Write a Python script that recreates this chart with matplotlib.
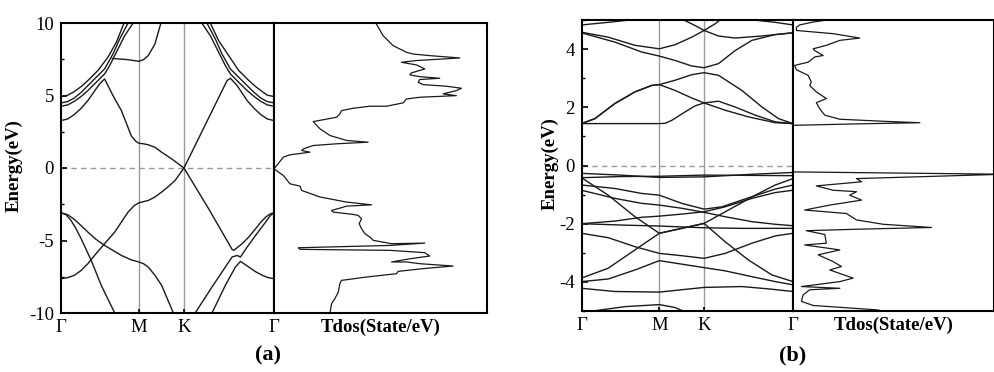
import matplotlib.pyplot as plt
from matplotlib.ticker import MultipleLocator

plt.rcParams['font.family'] = ['Liberation Serif', 'DejaVu Serif']
plt.rcParams['axes.unicode_minus'] = False

# high-symmetry path
klabels = ['Γ', 'M', 'K', 'Γ']
kpts_a = [0.0, 1.0, 1.58, 2.737]
kpts_b = [0.0, 1.0, 1.575, 2.717]

# ---- panel (a) bands, (k, E) points ----
bands_a = [
    [(0, 4.93), (0.086, 5.02), (0.172, 5.27), (0.26, 5.62), (0.345, 6.03), (0.474, 6.72), (0.603, 7.64), (0.711, 8.67),
     (0.810, 10.0), (0.86, 10.6)],
    [(0, 4.49), (0.086, 4.58), (0.172, 4.83), (0.26, 5.22), (0.345, 5.68), (0.474, 6.37), (0.560, 6.83), (0.668, 7.86),
     (0.754, 8.90), (0.862, 10.0), (0.9, 10.4)],
    [(0, 4.26), (0.086, 4.35), (0.172, 4.60), (0.26, 4.94), (0.345, 5.34), (0.496, 6.14), (0.560, 6.49), (0.625, 7.06),
     (0.711, 7.98), (0.819, 9.13), (0.927, 10.0), (0.96, 10.3)],
    [(0, 3.27), (0.086, 3.38), (0.172, 3.69), (0.26, 4.12), (0.345, 4.65), (0.42, 5.22), (0.496, 5.80), (0.560, 6.14),
     (0.668, 5.0), (0.776, 3.96), (0.905, 2.2), (0.96, 1.85), (1.0, 1.71), (1.06, 1.67), (1.121, 1.60), (1.207, 1.43),
     (1.293, 1.09), (1.422, 0.63), (1.58, 0.0), (1.897, -2.81), (2.198, -5.61), (2.220, -5.68), (2.328, -5.22),
     (2.42, -4.72), (2.5, -4.19), (2.57, -3.72), (2.629, -3.39), (2.69, -3.16), (2.737, -3.09)],
    [(0.66, 7.55), (0.75, 7.52), (0.862, 7.47), (1.0, 7.36), (1.06, 7.47), (1.121, 7.75), (1.207, 8.55), (1.284, 10.0),
     (1.32, 10.7)],
    [(0, -7.63), (0.086, -7.56), (0.172, -7.40), (0.26, -7.06), (0.345, -6.60), (0.431, -6.03), (0.560, -5.22),
     (0.690, -4.42), (0.862, -3.04), (0.94, -2.6), (1.0, -2.40), (1.06, -2.32), (1.121, -2.24), (1.207, -2.0),
     (1.293, -1.66), (1.38, -1.28), (1.466, -0.86), (1.58, 0.0), (1.767, 2.03), (1.940, 3.92), (2.069, 5.32),
     (2.134, 6.03), (2.177, 6.19), (2.263, 5.68), (2.392, 4.65), (2.48, 4.12), (2.565, 3.69), (2.651, 3.38),
     (2.737, 3.27)],
    [(2.737, 4.93), (2.651, 5.02), (2.586, 5.27), (2.50, 5.62), (2.414, 6.03), (2.284, 6.72), (2.155, 7.75),
     (2.026, 8.78), (1.918, 10.0), (1.87, 10.6)],
    [(2.737, 4.49), (2.651, 4.58), (2.565, 4.83), (2.48, 5.22), (2.392, 5.68), (2.263, 6.37), (2.177, 6.83),
     (2.069, 7.86), (1.983, 8.90), (1.875, 10.0), (1.84, 10.4)],
    [(2.737, 4.26), (2.651, 4.35), (2.565, 4.60), (2.48, 4.94), (2.392, 5.34), (2.241, 6.14), (2.177, 6.49),
     (2.112, 7.06), (2.026, 7.98), (1.918, 9.13), (1.810, 10.0), (1.78, 10.3)],
    [(0, -3.09), (0.065, -3.22), (0.129, -3.62), (0.195, -4.2), (0.259, -4.88), (0.388, -6.37), (0.517, -8.09),
     (0.690, -10.0), (0.72, -10.4)],
    [(0, -3.09), (0.086, -3.22), (0.172, -3.55), (0.26, -3.98), (0.345, -4.42), (0.45, -4.92), (0.560, -5.34),
     (0.776, -6.03), (0.9, -6.33), (1.0, -6.48), (1.06, -6.6), (1.121, -6.83), (1.207, -7.4), (1.293, -8.09),
     (1.444, -10.0), (1.47, -10.3)],
    [(1.70, -10.3), (1.724, -10.0), (1.940, -8.21), (2.198, -6.14), (2.263, -6.03), (2.306, -6.14), (2.392, -5.45),
     (2.5, -4.65), (2.629, -3.73), (2.69, -3.28), (2.737, -3.09)],
    [(1.92, -10.3), (1.940, -10.0), (2.112, -8.09), (2.241, -6.83), (2.306, -6.44), (2.414, -6.83), (2.5, -7.15),
     (2.586, -7.40), (2.66, -7.56), (2.737, -7.63)],
]

# ---- panel (a) total DOS ----
dos_a_E = [10.0, 9.13, 8.44, 7.98, 7.86, 7.75, 7.59, 7.52, 7.41, 7.29, 7.11, 6.83, 6.56, 6.42, 6.30, 6.19, 6.10, 5.91, 5.75,
           5.64, 5.50, 5.34, 5.11, 4.99, 4.88, 4.76, 4.49, 4.26, 4.26, 4.12, 3.96, 3.73, 3.50, 3.20, 2.70, 2.24, 1.90, 1.78,
           1.67, 1.55, 1.32, 1.21, 1.09, 0.91, 0.75, -0.06, -0.52, -1.09, -1.25, -1.55, -2.0, -2.35, -2.54, -2.63, -2.93,
           -3.04, -3.20, -3.27, -3.50, -3.84, -4.19, -4.53, -4.76, -4.99, -5.22, -5.18, -5.34, -5.50, -5.61, -5.68, -5.84,
           -6.07, -6.26, -6.48, -6.48, -6.60, -6.76, -6.94, -7.13, -7.29, -7.52, -7.75, -7.98, -8.55, -9.01, -9.36, -10.0]
dos_a = [4.78, 5.12, 5.59, 6.22, 6.53, 7.31, 8.72, 7.94, 6.69, 5.98, 6.69, 7.08, 6.45, 6.38, 6.84, 7.78, 6.84, 6.77, 7.0,
         8.09, 8.80, 8.56, 7.94, 8.56, 6.84, 6.22, 6.06, 5.28, 4.5, 3.72, 3.17, 3.09, 2.94, 1.84, 2.16, 2.63, 3.41, 4.42,
         2.94, 1.84, 1.38, 1.30, 1.69, 0.75, 0.44, 0.0, 0.44, 0.75, 1.22, 1.30, 2.16, 3.41, 4.58, 3.41, 2.70,
         2.78, 3.72, 3.95, 4.11, 4.0, 4.11, 4.27, 4.5, 4.66, 5.52, 7.08, 5.44, 1.14, 1.22, 5.44, 7.08,
         7.31, 6.38, 5.52, 6.22, 6.84, 8.41, 7.0, 5.83, 5.75, 4.34, 3.17, 3.09, 3.02, 2.86, 2.70, 2.63]

# ---- panel (b) bands ----
bands_b = [
    # conduction
    [(0, 1.44), (0.558, 1.44), (1.0, 1.44), (1.073, 1.45), (1.159, 1.55), (1.330, 1.84), (1.459, 2.05), (1.575, 2.15),
     (1.760, 2.21), (1.974, 2.01), (2.232, 1.73), (2.489, 1.50), (2.717, 1.44)],
    [(0, 1.44), (0.172, 1.61), (0.429, 2.13), (0.687, 2.53), (0.901, 2.75), (1.0, 2.78), (1.202, 2.58), (1.416, 2.32),
     (1.575, 2.15), (1.845, 1.90), (2.146, 1.67), (2.489, 1.47), (2.717, 1.44)],
    [(0, 1.44), (0.172, 1.61), (0.429, 2.13), (0.687, 2.53), (0.901, 2.75), (1.0, 2.78), (1.202, 2.93), (1.416, 3.12),
     (1.575, 3.19), (1.760, 3.10), (2.060, 2.58), (2.318, 2.01), (2.532, 1.61), (2.717, 1.44)],
    [(0, 4.58), (0.343, 4.41), (0.687, 4.13), (1.0, 4.01), (1.202, 4.15), (1.416, 4.41), (1.575, 4.64), (1.717, 4.87), (1.803, 5.05)],
    [(0, 4.56), (0.429, 4.24), (0.773, 3.90), (1.0, 3.76), (1.202, 3.61), (1.416, 3.42), (1.575, 3.36), (1.760, 3.50),
     (1.974, 3.95), (2.189, 4.30), (2.489, 4.50), (2.717, 4.56)],
    [(1.330, 4.98), (1.459, 4.81), (1.575, 4.64), (1.760, 4.45), (1.974, 4.38), (2.318, 4.45), (2.717, 4.56)],
    [(0, 4.83), (0.343, 4.92), (0.622, 5.0), (0.8, 5.1)],
    [(2.1, 5.1), (2.206, 5.0), (2.489, 4.92), (2.717, 4.83)],
    # valence
    [(0, -0.27), (0.5, -0.33), (1.0, -0.41), (1.575, -0.39), (2.2, -0.30), (2.717, -0.24)],
    [(0, -0.42), (0.5, -0.38), (1.0, -0.37), (1.575, -0.33), (2.2, -0.34), (2.717, -0.35)],
    [(0, -0.42), (0.343, -1.02), (0.687, -1.76), (1.0, -2.33), (1.288, -2.16), (1.575, -1.99), (1.888, -1.53),
     (2.232, -1.02), (2.489, -0.67), (2.717, -0.45)],
    [(0, -3.87), (0.343, -3.53), (0.687, -2.90), (1.0, -2.33), (1.288, -2.16), (1.575, -1.99), (1.845, -2.62),
     (2.146, -3.25), (2.446, -3.76), (2.717, -3.99)],
    [(0, -0.67), (0.429, -0.79), (0.773, -0.96), (1.0, -1.02), (1.288, -1.30), (1.575, -1.50), (1.803, -1.42),
     (2.146, -1.11), (2.489, -0.81), (2.717, -0.67)],
    [(0, -0.85), (0.429, -1.13), (0.773, -1.30), (1.0, -1.36), (1.288, -1.47), (1.575, -1.61), (1.845, -1.76),
     (2.189, -1.93), (2.489, -2.02), (2.717, -2.07)],
    [(0, -2.0), (0.558, -2.05), (1.0, -2.08), (1.575, -2.14), (2.060, -2.16), (2.717, -2.16)],
    [(0, -2.0), (0.429, -1.91), (0.773, -1.78), (1.0, -1.74), (1.288, -1.67), (1.575, -1.59), (1.845, -1.42),
     (2.189, -1.13), (2.489, -0.93), (2.717, -0.85)],
    [(0, -2.33), (0.343, -2.48), (0.687, -2.79), (1.0, -3.02), (1.288, -3.10), (1.575, -3.19), (1.845, -3.02),
     (2.189, -2.67), (2.489, -2.42), (2.717, -2.33)],
    [(0, -3.99), (0.343, -3.90), (0.687, -3.59), (1.0, -3.27), (1.288, -3.39), (1.575, -3.51), (1.845, -3.62),
     (2.189, -3.82), (2.489, -3.99), (2.717, -4.10)],
    [(0, -4.22), (0.429, -4.33), (1.0, -4.35), (1.575, -4.19), (2.060, -4.16), (2.403, -4.24), (2.717, -4.33)],
    [(0.05, -5.2), (0.146, -5.0), (0.558, -4.85), (1.0, -4.78), (1.2, -4.88), (1.305, -5.0), (1.4, -5.2)],
]

# ---- panel (b) total DOS ----
dos_b_E = [4.98, 4.93, 4.83, 4.75, 4.64, 4.53, 4.38, 4.30, 4.13, 4.01, 3.95, 3.78, 3.73, 3.55, 3.44, 3.29, 3.10, 2.87,
           2.75, 2.53, 2.30, 2.16, 1.95, 1.73, 1.59, 1.52, 1.47, 1.43, 1.38, -0.22, -0.30, -0.45, -0.56, -0.70, -0.85,
           -0.90, -1.02, -1.19, -1.36, -1.53, -1.65, -1.76, -1.87, -2.02, -2.13, -2.19, -2.24, -2.37, -2.67, -2.73,
           -2.90, -3.07, -3.30, -3.47, -3.59, -3.87, -3.99, -4.16, -4.22, -4.27, -4.45, -4.67, -4.81, -4.96, -4.98]
dos_b = [1.5, 1.0, 0.33, 0.17, 0.17, 2.0, 3.32, 2.33, 1.66, 1.0, 1.08, 1.5, 1.08, 0.75, 0.08, 0.17, 0.75, 0.91,
         0.83, 1.16, 1.66, 1.16, 1.33, 1.58, 2.33, 4.49, 6.31, 3.16, 0.0, 0.0, 10.5, 3.16, 3.41, 1.16, 1.99,
         3.16, 2.82, 3.41, 1.83, 0.58, 2.66, 2.91, 3.16, 4.49, 6.89, 3.16, 0.66, 1.58, 1.66, 0.58,
         2.33, 1.25, 1.99, 2.41, 1.83, 2.99, 2.33, 0.42, 2.33, 0.83, 0.50, 0.42, 1.0, 4.15, 4.32]

line_c = '#1a1a1a'
grey = '#9a9a9a'

fig = plt.figure(figsize=(9.94, 3.72), dpi=100)


def band_panel(rect, bands, kpts, ylim, major, minor):
    ax = fig.add_axes(rect)
    for b in bands:
        ks, es = zip(*b)
        ax.plot(ks, es, color=line_c, lw=1.0)
    for k in kpts[1:-1]:
        ax.axvline(k, color=grey, lw=1.0, zorder=0)
    ax.axhline(0, color=grey, lw=1.0, ls=(0, (4, 3)), zorder=0)
    ax.set_xlim(kpts[0], kpts[-1])
    ax.set_ylim(*ylim)
    ax.set_xticks(kpts)
    ax.set_xticklabels(klabels, fontsize=13.5)
    ax.yaxis.set_major_locator(MultipleLocator(major))
    ax.yaxis.set_minor_locator(MultipleLocator(minor))
    ax.tick_params(axis='y', which='major', direction='in', length=4, width=1.2, labelsize=13.5, pad=5)
    ax.tick_params(axis='y', which='minor', direction='in', length=2.5, width=1.0)
    ax.tick_params(axis='x', direction='in', length=3, width=1.2, pad=4)
    for s in ax.spines.values():
        s.set_linewidth(1.5)
    return ax


def dos_panel(rect, d, e, ylim):
    ax = fig.add_axes(rect)
    ax.plot(d, e, color=line_c, lw=0.9)
    ax.set_xlim(0, 10)
    ax.set_ylim(*ylim)
    ax.set_xticks([])
    ax.set_yticks([])
    ax.set_xlabel('Tdos(State/eV)', fontsize=13.5, fontweight='bold', labelpad=4)
    for s in ax.spines.values():
        s.set_linewidth(1.5)
    return ax


H = 372.0
W = 994.0
ax1 = band_panel([61 / W, 1 - 313 / H, 213 / W, 290 / H], bands_a, kpts_a, (-10, 10), 5, 2.5)
ax2 = dos_panel([274 / W, 1 - 313 / H, 213 / W, 290 / H], dos_a, dos_a_E, (-10, 10))
ax3 = band_panel([581.5 / W, 1 - 311 / H, 211.5 / W, 291 / H], bands_b, kpts_b, (-5, 5), 2, 1)
ax4 = dos_panel([793 / W, 1 - 311 / H, 201 / W, 291 / H], dos_b, dos_b_E, (-5, 5))

fig.text(14 / W, 1 - 166 / H, 'Energy(eV)', rotation=90, ha='center', va='center', fontsize=13.5, fontweight='bold')
fig.text(550 / W, 1 - 164 / H, 'Energy(eV)', rotation=90, ha='center', va='center', fontsize=13.5, fontweight='bold')
fig.text(268 / W, 1 - 355 / H, '(a)', ha='center', va='center', fontsize=16, fontweight='bold')
fig.text(793 / W, 1 - 355 / H, '(b)', ha='center', va='center', fontsize=16, fontweight='bold')

fig.savefig('out.png', dpi=100)
